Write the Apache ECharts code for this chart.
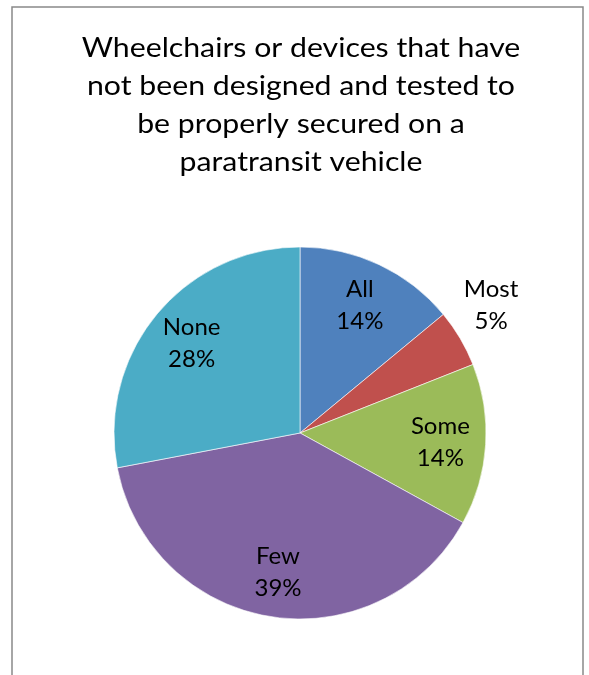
<!DOCTYPE html>
<html>
<head>
<meta charset="utf-8">
<script src="https://cdn.jsdelivr.net/npm/echarts@6/dist/echarts.min.js"></script>
<style>
  html, body { margin: 0; padding: 0; background: #fff; }
  #chart { width: 589px; height: 675px; }
</style>
</head>
<body>
<div id="chart"></div>
<script>
// Survey answers and their shares (percent)
const categories = ['All', 'Most', 'Some', 'Few', 'None'];
const shares = [14, 5, 14, 39, 28];
const sliceColors = ['#4F81BD', '#C0504D', '#9BBB59', '#8064A2', '#4BACC6'];
const titleLines = [
  'Wheelchairs or devices that have',
  'not been designed and tested to',
  'be properly secured on a',
  'paratransit vehicle'
];

const FONT = 'Lato, "Open Sans", sans-serif';
const CX = 300, CY = 433, R = 186;

const chart = echarts.init(document.getElementById('chart'), null, { renderer: 'canvas' });

const pieData = categories.map((name, i) => ({
  name,
  value: shares[i],
  itemStyle: { color: sliceColors[i] }
}));

// Label layer: a ring so "inside" labels sit near 3/4 of the radius
const labelData = categories.map((name, i) => {
  const item = { name, value: shares[i] };
  if (name === 'Most') {
    item.label = { offset: [70, -56] };
  }
  return item;
});

chart.setOption({
  animation: false,
  backgroundColor: '#ffffff',
  graphic: [
    {
      type: 'rect',
      shape: { x: 12, y: 7, width: 571, height: 700 },
      style: { fill: 'none', stroke: '#898989', lineWidth: 1.5 },
      z: 0
    },
    {
      type: 'text',
      x: 301,
      y: 29,
      scaleX: 1.12,
      style: {
        text: titleLines.join('\n'),
        fontFamily: FONT,
        fontSize: 27,
        lineHeight: 38,
        fill: '#000',
        align: 'center',
        verticalAlign: 'top'
      },
      z: 10
    }
  ],
  series: [
    {
      type: 'pie',
      center: [CX, CY],
      radius: [0, R],
      startAngle: 90,
      clockwise: true,
      silent: true,
      label: { show: false },
      labelLine: { show: false },
      itemStyle: { borderColor: '#ffffff', borderWidth: 0.6 },
      data: pieData
    },
    {
      type: 'pie',
      center: [CX, CY],
      radius: [R * 0.48, R],
      startAngle: 90,
      clockwise: true,
      silent: true,
      itemStyle: { color: 'rgba(0,0,0,0)', borderWidth: 0 },
      labelLine: { show: false },
      label: {
        show: true,
        position: 'inside',
        formatter: p => p.name + '\n' + p.value + '%',
        fontFamily: FONT,
        fontSize: 24,
        lineHeight: 32,
        color: '#000',
        align: 'center'
      },
      data: labelData,
      z: 5
    }
  ]
});
</script>
</body>
</html>
